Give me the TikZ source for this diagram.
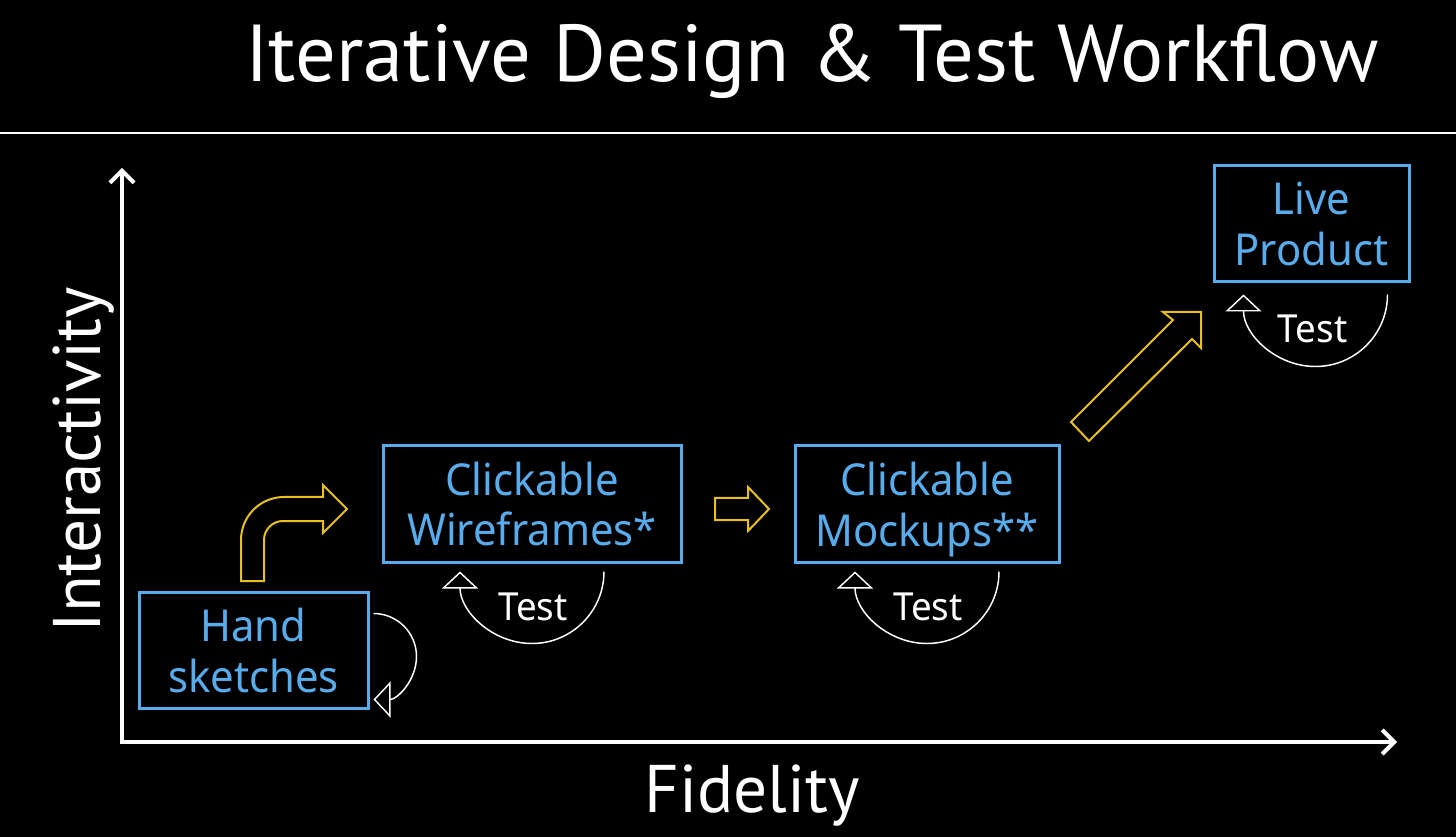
\documentclass[tikz,border=0pt]{standalone}
\usepackage{amsmath}
\usepackage{fontspec}
\setmainfont[FakeStretch=0.95]{Noto Sans}
\newfontfamily\headfont{PT Sans}
\usepackage{tikz}
\usetikzlibrary{arrows.meta,shapes,positioning,calc}
\definecolor{stageblue}{RGB}{88,172,236}
\definecolor{flowgold}{RGB}{232,192,30}

\tikzset{
    stage/.style={draw=stageblue, line width=2.25pt, text=stageblue, align=center,
        minimum height=87pt, inner sep=0pt, font=\fontsize{33pt}{38pt}\selectfont},
    testloop/.style={white, line width=1.1pt,
        -{Triangle[open, length=12.75pt, width=27pt, line width=1.1pt]}},
    testlabel/.style={white, font=\fontsize{29pt}{34pt}\selectfont},
    flowarrow/.style={flowgold, line width=1.5pt, line join=miter},
    axis/.style={white, line width=3pt,
        {Straight Barb[length=9pt, width=18pt]}-{Straight Barb[length=9pt, width=18pt]}},
    biglabel/.style={white, font=\headfont\fontsize{50.5pt}{56pt}\selectfont},
}

\begin{document}
\begin{tikzpicture}[x=0.75pt, y=-0.75pt]
    \fill[black] (0,0) rectangle (1456,837);
    \useasboundingbox (0,0) rectangle (1456,837);

    % Title
    \node[white, anchor=base, font=\headfont\fontsize{60.5pt}{66pt}\selectfont] (title) at (812,82) {Iterative Design \& Test Workflow};
    \draw[white, line width=1.1pt] (0,133) -- (1456,133);

    % Axes
    \coordinate (origin) at (122,742);
    \coordinate (ytop) at (122,168);
    \coordinate (xend) at (1397,742);
    \draw[axis] (ytop) -- (origin) -- (xend);
    \node[biglabel, rotate=90, anchor=base] (ylabel) at (100,460) {Interactivity};
    \node[biglabel, anchor=base] (xlabel) at (752,812) {Fidelity};

    % Stages
    \node[stage, minimum width=171.75pt] (hand) at (253.5,650.5) {Hand\\sketches};
    \node[stage, minimum width=223.5pt] (wire) at (532,504) {Clickable\\Wireframes*};
    \node[stage, minimum width=198pt] (mock) at (927,504) {Clickable\\\smash[b]{Mockups**}};
    \node[stage, minimum width=146.25pt] (live) at (1311.5,224) {Live\\Product};

    % Test loops
    \draw[testloop] ([shift={(4,-37)}]hand.east) arc[start angle=-90, end angle=90, radius=43];
    \draw[testloop] ([shift={(72,8)}]wire.south) arc[start angle=0, end angle=180, radius=72];
    \draw[testloop] ([shift={(72,8)}]mock.south) arc[start angle=0, end angle=180, radius=72];
    \draw[testloop] ([shift={(76,11)}]live.south) arc[start angle=0, end angle=180, radius=72];
    \node[testlabel] (wiretest) at ([shift={(1,43)}]wire.south) {Test};
    \node[testlabel] (mocktest) at ([shift={(1,43)}]mock.south) {Test};
    \node[testlabel] (livetest) at ([shift={(1,45)}]live.south) {Test};

    % Block arrows between stages
    \draw[flowarrow] (241,581) -- (241,540) arc[start angle=180, end angle=270, radius=43]
        -- (323,497) -- (323,485) -- (347,509) -- (323,533) -- (323,521) -- (283,521)
        arc[start angle=270, end angle=180, radius=19] -- (264,581) -- cycle;
    \draw[flowarrow] (715,498) -- (748,498) -- (748,487) -- (769,509) -- (748,531)
        -- (748,520) -- (715,520) -- cycle;
    \draw[flowarrow] (1071,422) -- (1173,320) -- (1163,312) -- (1201,312) -- (1201,348)
        -- (1192,339) -- (1089,441) -- cycle;
\end{tikzpicture}
\end{document}
